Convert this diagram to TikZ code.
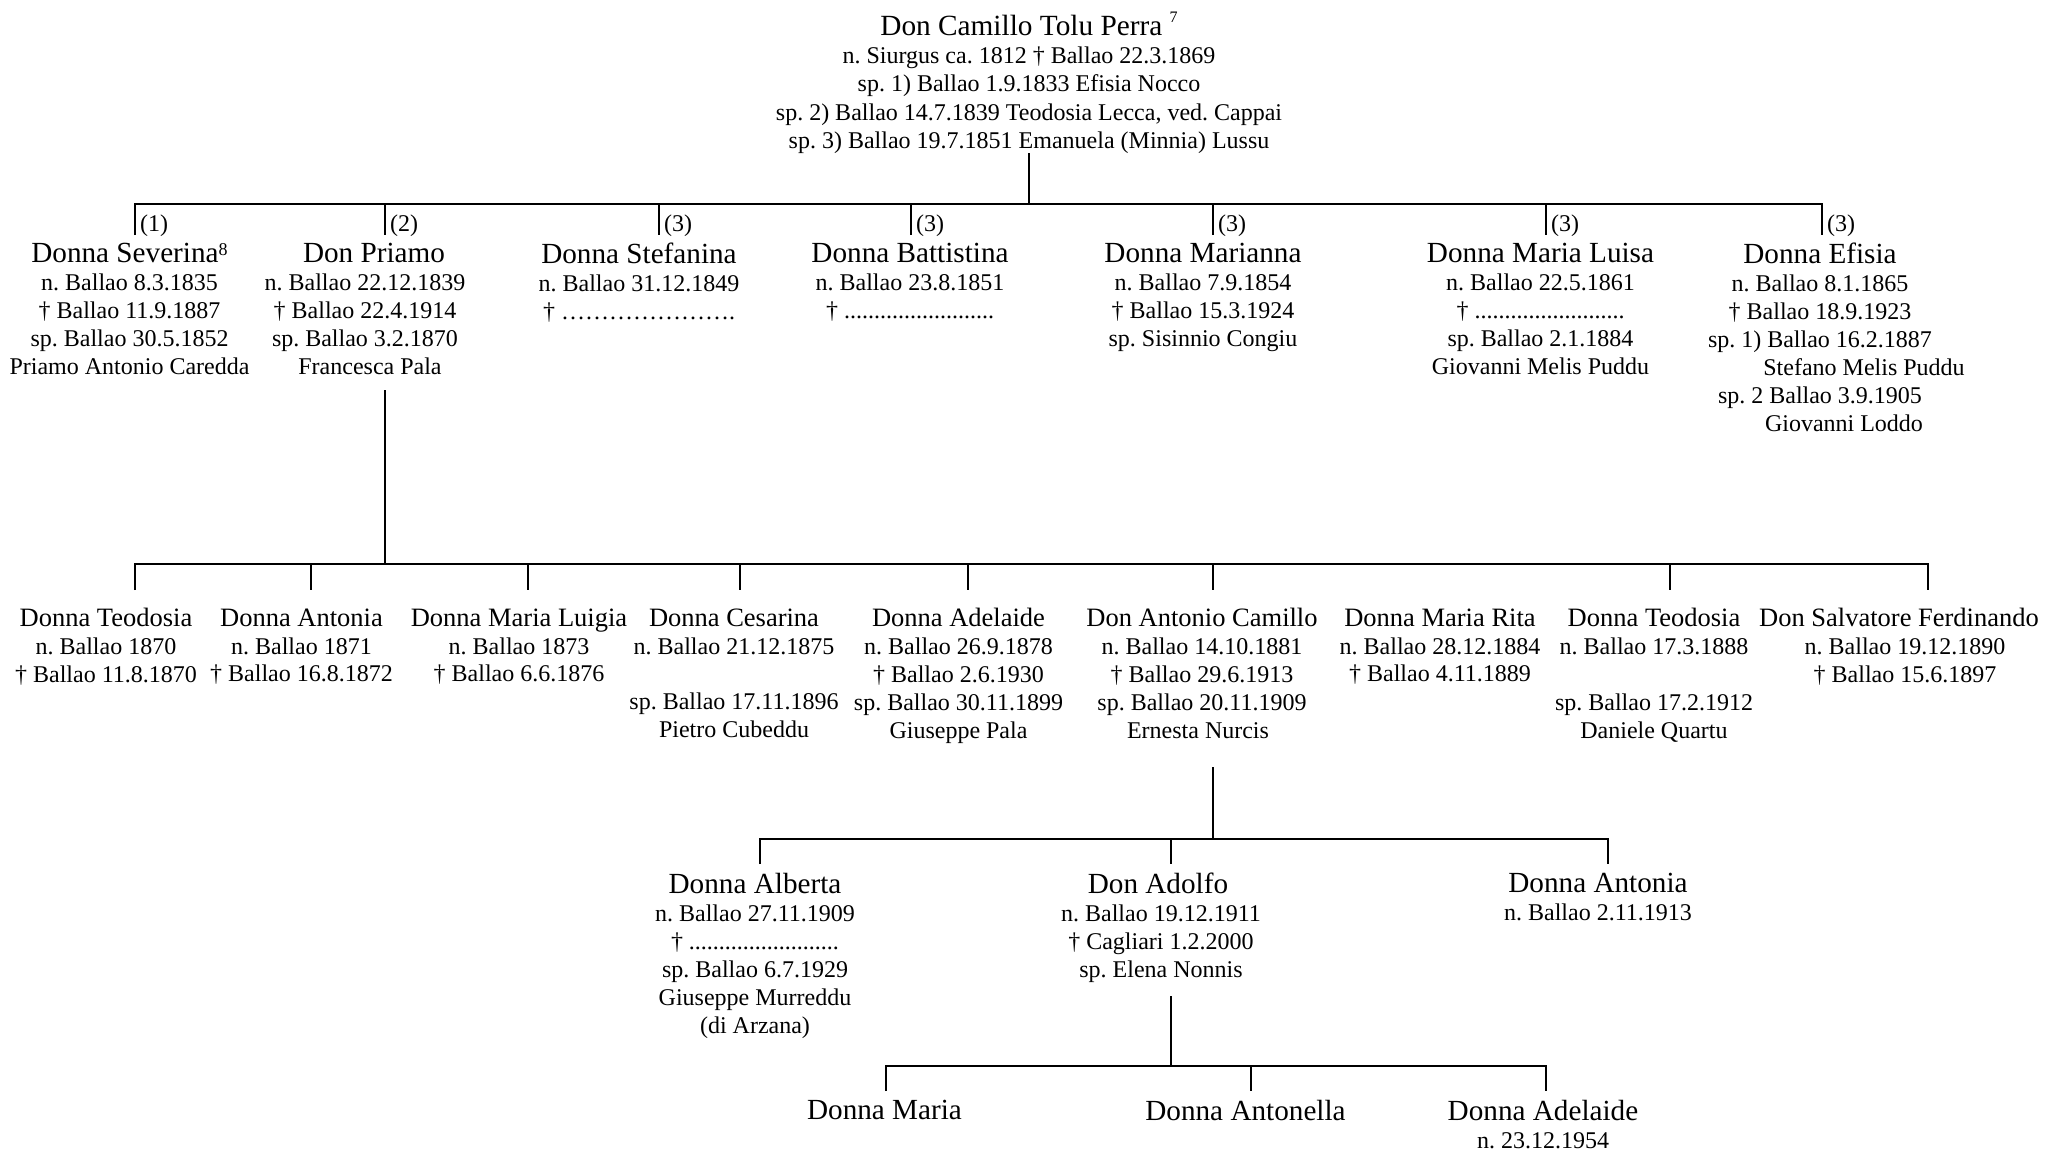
\documentclass[tikz,border=0pt]{standalone}
\usepackage{fontspec}
\setmainfont{Liberation Serif}
\frenchspacing
\newcommand\pname[1]{{\fontsize{29.2}{27.9}\selectfont #1}}
\newcommand\pnameb[1]{{\fontsize{26.5}{27.9}\selectfont #1}}
\newcommand\supnum[3]{\raisebox{#1}[0pt][0pt]{\fontsize{#2}{#2}\selectfont #3}}
\newcommand\ellip{\char"2026{}}
\tikzset{
  person/.style={anchor=north, align=center, inner sep=0pt, outer sep=0pt,
    font=\fontsize{24}{27.9}\selectfont},
  rootbox/.style={person, font=\fontsize{24}{28.3}\selectfont},
  link/.style={line width=2pt, line join=miter},
  lbl/.style={anchor=base west, inner sep=0pt, font=\fontsize{24}{24}\selectfont}
}
\begin{document}
\begin{tikzpicture}[x=1pt, y=-1pt]
\path[use as bounding box, fill=white] (0,0) rectangle (2046,1152);

% ---------- root ----------
\node[rootbox] (root) at (1029,15) {%
  {\fontsize{29.3}{28.3}\selectfont Don Camillo Tolu Perra \supnum{13.3pt}{16}{7}}\\
  n. Siurgus ca. 1812 † Ballao 22.3.1869\\
  sp. 1) Ballao 1.9.1833 Efisia Nocco\\
  sp. 2) Ballao 14.7.1839 Teodosia Lecca, ved. Cappai\\
  sp. 3) Ballao 19.7.1851 Emanuela (Minnia) Lussu};

% ---------- generation 1 ----------
\node[person] (sev) at (129.5,243.4) {%
  \pname{Donna Severina\supnum{7pt}{18}{8}}\\
  n. Ballao 8.3.1835\\ † Ballao 11.9.1887\\ sp. Ballao 30.5.1852\\ Priamo Antonio Caredda};
\node[person] (pri) at (365,243.4) {%
  \pname{\hspace*{18pt}Don Priamo}\\
  n. Ballao 22.12.1839\\ † Ballao 22.4.1914\hspace*{15pt}\\ sp. Ballao 3.2.1870\hspace*{8pt}\\ \hspace*{10pt}Francesca Pala};
\node[person] (ste) at (639,243.4) {%
  \pname{Donna Stefanina}\\ n. Ballao 31.12.1849\\ † \ellip\ellip\ellip\ellip\ellip\ellip\ellip.};
\node[person] (bat) at (910,243.4) {%
  \pname{Donna Battistina}\\ n. Ballao 23.8.1851\\ † .........................};
\node[person] (mar) at (1203,243.4) {%
  \pname{Donna Marianna}\\ n. Ballao 7.9.1854\\ † Ballao 15.3.1924\\ sp. Sisinnio Congiu};
\node[person] (mlu) at (1540.5,243.4) {%
  \pname{Donna Maria Luisa}\\ n. Ballao 22.5.1861\\ † .........................\\ sp. Ballao 2.1.1884\\ Giovanni Melis Puddu};
\node[person] (efi) at (1820,243.4) {%
  \pname{Donna Efisia}\\ n. Ballao 8.1.1865\\ † Ballao 18.9.1923\\ sp. 1) Ballao 16.2.1887\\
  \hspace*{88pt}Stefano Melis Puddu\\ sp. 2 Ballao 3.9.1905\hspace*{12pt}\\ \hspace*{48pt}Giovanni Loddo};

% ---------- generation 2 ----------
\node[person] (teo1) at (106,608.6) {%
  \pnameb{Donna Teodosia}\\ n. Ballao 1870\\ † Ballao 11.8.1870};
\node[person] (ant) at (301.5,608.6) {%
  \pnameb{Donna Antonia}\\ n. Ballao 1871\\ † Ballao 16.8.1872};
\node[person] (mlg) at (519,608.6) {%
  \pnameb{Donna Maria Luigia}\\ n. Ballao 1873\\ † Ballao 6.6.1876};
\node[person] (ces) at (734,608.6) {%
  \pnameb{Donna Cesarina}\\ n. Ballao 21.12.1875\\ \\ sp. Ballao 17.11.1896\\ Pietro Cubeddu};
\node[person] (ade) at (958.5,608.6) {%
  \pnameb{Donna Adelaide}\\ n. Ballao 26.9.1878\\ † Ballao 2.6.1930\\ sp. Ballao 30.11.1899\\ Giuseppe Pala};
\node[person] (acm) at (1202,608.6) {%
  \pnameb{Don Antonio Camillo}\\ n. Ballao 14.10.1881\\ † Ballao 29.6.1913\\ sp. Ballao 20.11.1909\hspace*{20pt}\\ Ernesta Nurcis\hspace*{8pt}};
\node[person] (mri) at (1440,608.6) {%
  \pnameb{Donna Maria Rita}\\ n. Ballao 28.12.1884\\ † Ballao 4.11.1889};
\node[person] (teo2) at (1654,608.6) {%
  \pnameb{Donna Teodosia}\\ n. Ballao 17.3.1888\\ \\ sp. Ballao 17.2.1912\\ Daniele Quartu};
\node[person] (sal) at (1905,608.6) {%
  \pnameb{Don Salvatore Ferdinando\hspace*{12pt}}\\ n. Ballao 19.12.1890\\ † Ballao 15.6.1897};

% ---------- generation 3 ----------
\node[person] (alb) at (755,873.4) {%
  \pname{Donna Alberta}\\ n. Ballao 27.11.1909\\ † .........................\\ sp. Ballao 6.7.1929\\ Giuseppe Murreddu\\ (di Arzana)};
\node[person] (ado) at (1161,873.4) {%
  \pname{Don Adolfo\hspace*{6pt}}\\ n. Ballao 19.12.1911\\ † Cagliari 1.2.2000\\ sp. Elena Nonnis};
\node[person] (ant3) at (1598,873.4) {%
  \pname{Donna Antonia}\\ n. Ballao 2.11.1913};

% ---------- generation 4 ----------
\node[person] (mar4) at (884.5,1100.1) {\pname{Donna Maria}};
\node[person] (anl) at (1245.5,1100.1) {\pname{Donna Antonella}};
\node[person] (ade4) at (1543,1100.1) {\pname{Donna Adelaide}\\ n. 23.12.1954};

% ---------- connectors: root -> generation 1 ----------
\coordinate (bar1) at (0,204);
\coordinate (root-out) at (1029,153);
\coordinate (sev-in) at (135,235);
\coordinate (pri-in) at (385,235);
\coordinate (ste-in) at (659,235);
\coordinate (bat-in) at (911,235);
\coordinate (mar-in) at (1213,235);
\coordinate (mlu-in) at (1546,235);
\coordinate (efi-in) at (1822,235);
\draw[link] (root-out) -- (root-out |- bar1);
\draw[link] (sev-in) |- (efi-in |- bar1) -- (efi-in);
\foreach \c in {pri,ste,bat,mar,mlu} \draw[link] (\c-in |- bar1) -- (\c-in);

\node[lbl] (l1) at (140,231.7) {(1)};
\node[lbl] (l2) at (390,231.7) {(2)};
\node[lbl] (l3) at (664,231.7) {(3)};
\node[lbl] (l4) at (916,231.7) {(3)};
\node[lbl] (l5) at (1218,231.7) {(3)};
\node[lbl] (l6) at (1551,231.7) {(3)};
\node[lbl] (l7) at (1827,231.7) {(3)};

% ---------- connectors: Don Priamo -> generation 2 ----------
\coordinate (bar2) at (0,564);
\coordinate (pri-out) at (385,390);
\coordinate (teo1-in) at (135,590);
\coordinate (ant-in) at (311,590);
\coordinate (mlg-in) at (528,590);
\coordinate (ces-in) at (740,590);
\coordinate (ade-in) at (968,590);
\coordinate (acm-in) at (1213,590);
\coordinate (teo2-in) at (1670,590);
\coordinate (sal-in) at (1928,590);
\draw[link] (pri-out) -- (pri-out |- bar2);
\draw[link] (teo1-in) |- (sal-in |- bar2) -- (sal-in);
\foreach \c in {ant,mlg,ces,ade,acm,teo2} \draw[link] (\c-in |- bar2) -- (\c-in);

% ---------- connectors: Don Antonio Camillo -> generation 3 ----------
\coordinate (bar3) at (0,839);
\coordinate (acm-out) at (1213,767);
\coordinate (alb-in) at (760,864);
\coordinate (ado-in) at (1171,864);
\coordinate (ant3-in) at (1608,864);
\draw[link] (acm-out) -- (acm-out |- bar3);
\draw[link] (alb-in) |- (ant3-in |- bar3) -- (ant3-in);
\draw[link] (ado-in |- bar3) -- (ado-in);

% ---------- connectors: Don Adolfo -> generation 4 ----------
\coordinate (bar4) at (0,1066);
\coordinate (ado-out) at (1171,996);
\coordinate (mar4-in) at (886,1091);
\coordinate (anl-in) at (1251,1091);
\coordinate (ade4-in) at (1546,1091);
\draw[link] (ado-out) -- (ado-out |- bar4);
\draw[link] (mar4-in) |- (ade4-in |- bar4) -- (ade4-in);
\draw[link] (anl-in |- bar4) -- (anl-in);
\end{tikzpicture}
\end{document}
